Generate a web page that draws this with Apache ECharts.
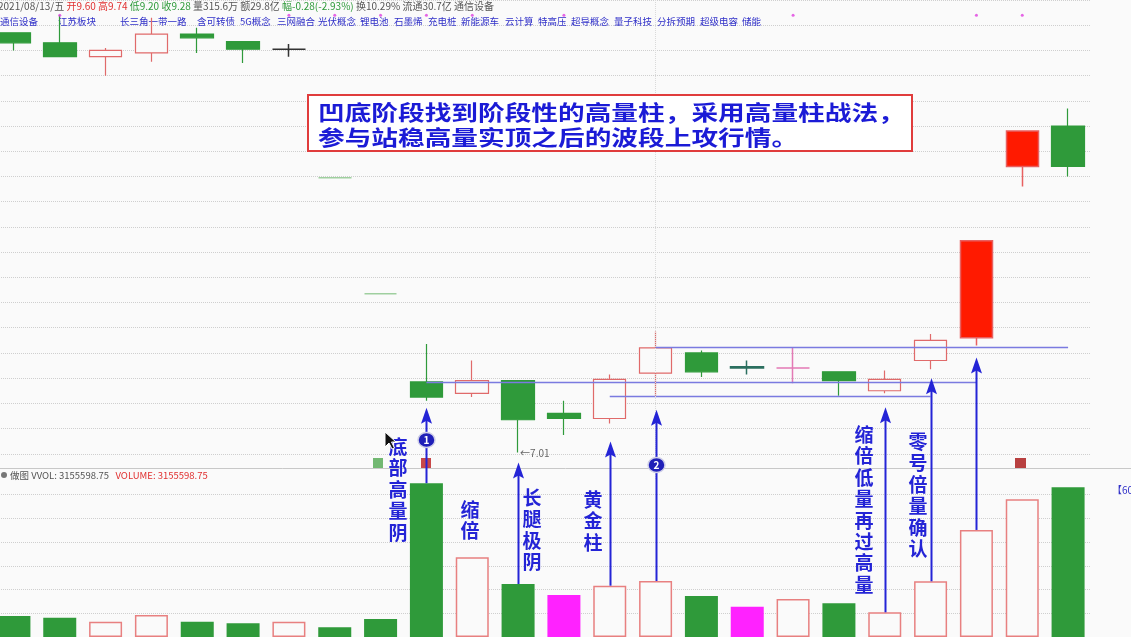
<!DOCTYPE html>
<html>
<head>
<meta charset="utf-8">
<script src="https://cdn.jsdelivr.net/npm/echarts@6/dist/echarts.min.js"></script>
<style>
  html, body { margin: 0; padding: 0; background: #fafafa; overflow: hidden; }
  #wrap { position: relative; width: 1131px; height: 637px; overflow: hidden; }
  #main { position: absolute; left: -9px; top: 0; width: 1140px; height: 637px; }
</style>
</head>
<body>
<div id="wrap"><div id="main"></div></div>
<script>
// 日期 (最后一根 = 2021/08/13)
var days = ['07/13', '07/14', '07/15', '07/16', '07/19', '07/20', '07/21', '07/22', '07/23', '07/26', '07/27', '07/28',
            '07/29', '07/30', '08/02', '08/03', '08/04', '08/05', '08/06', '08/09', '08/10', '08/11', '08/12', '08/13'];
var openP  = [10.34, 10.26, 10.15, 10.18, 10.33, 10.27, 10.21, 9.19, 8.27, 7.57, 7.48, 7.58,
              7.32, 7.28, 7.64, 7.80, 7.69, 7.68, 7.65, 7.50, 7.74, 7.92, 9.28, 9.60];
var closeP = [10.26, 10.15, 10.20, 10.33, 10.30, 10.21, 10.21, 9.19, 8.27, 7.45, 7.58, 7.27,
              7.28, 7.59, 7.84, 7.65, 7.68, 7.68, 7.58, 7.59, 7.90, 8.69, 9.56, 9.28];
var lowP   = [10.20, 10.15, 10.00, 10.11, 10.18, 10.10, 10.15, 9.19, 8.27, 7.42, 7.45, 7.01,
              7.15, 7.24, 7.46, 7.61, 7.63, 7.56, 7.46, 7.48, 7.67, 7.86, 9.12, 9.20];
var highP  = [10.34, 10.48, 10.22, 10.46, 10.38, 10.27, 10.25, 9.19, 8.27, 7.87, 7.74, 7.58,
              7.42, 7.63, 7.97, 7.82, 7.74, 7.84, 7.65, 7.66, 7.95, 8.69, 9.56, 9.74];
var volume = [443000, 407000, 323000, 464000, 323000, 289000, 323000, 205000, 380000, 3243000, 1681000, 1118000,
              886000, 1082000, 1181000, 865000, 639000, 802000, 711000, 521000, 1175000, 2257000, 2905000, 3155598.75];

var limitUpDays = [21, 22];
var magentaVolDays = [12, 16];
var signalDays = [1, 6, 7, 8, 9, 10, 12, 17, 21, 22];
var signalLevel = 10.48;

// 手工画线 [起点, 终点, 价位]
var drawnLines = [[9, 21, 7.565], [13, 20, 7.454], [14, 23, 7.843]];

var tags = ['通信设备', '江苏板块', '长三角一带一路', '含可转债', '5G概念', '三网融合', '光伏概念', '锂电池', '石墨烯',
            '充电桩', '新能源车', '云计算', '特高压', '超导概念', '量子科技', '分拆预期', '超级电容', '储能'];
var tagX = [0, 58, 120, 197, 240, 277, 318, 360, 394, 428, 461, 505, 538, 571, 614, 657, 700, 742];

var bg = '#fafafa';
var upColor = '#e06a6a';
var downColor = '#2f9a3a';
var blue = '#2424d6';

var dojiColor = { 6: '#333333', 7: '#9fcf9f', 8: '#9fcf9f', 16: '#2b6f5f', 17: '#e37ab5' };

function isUp(i) {
  if (closeP[i] !== openP[i]) return closeP[i] > openP[i];
  return i === 0 || closeP[i] >= closeP[i - 1];
}

var candleItems = days.map(function (d, i) {
  var item = { value: [openP[i], closeP[i], lowP[i], highP[i]] };
  if (limitUpDays.indexOf(i) >= 0) {
    item.itemStyle = { color: '#ff1a00', borderColor: '#e86060', borderWidth: 1.5 };
  } else if (dojiColor[i]) {
    var c = dojiColor[i];
    item.itemStyle = { color: c, color0: c, borderColor: c, borderColor0: c, borderColorDoji: c, borderWidth: 1.5 };
  }
  return item;
});

var volItems = volume.map(function (v, i) {
  if (magentaVolDays.indexOf(i) >= 0) return { value: v, itemStyle: { color: '#ff22ff' } };
  if (isUp(i)) return { value: v, itemStyle: { color: bg, borderColor: '#e88080', borderWidth: 1.5 } };
  return { value: v, itemStyle: { color: downColor } };
});

var lineData = drawnLines.map(function (l) {
  return [{ coord: [l[0], l[2]] }, { coord: [l[1], l[2]] }];
});
lineData.push({ xAxis: 14, lineStyle: { color: '#dadada', type: 'dotted', width: 1 } });

var chart = echarts.init(document.getElementById('main'));

var option = {
  backgroundColor: bg,
  animation: false,
  grid: [
    { left: 0, width: 1100, top: 0, height: 479 },
    { left: 0, width: 1100, top: 471, height: 166 }
  ],
  xAxis: [
    { type: 'category', data: days, gridIndex: 0, show: false },
    { type: 'category', data: days, gridIndex: 1, show: false }
  ],
  yAxis: [
    {
      gridIndex: 0, min: 6.8, max: 10.6, interval: 0.2,
      axisLine: { show: false }, axisTick: { show: false }, axisLabel: { show: false },
      splitLine: { show: true, showMinLine: false, lineStyle: { color: '#cfcfcf', type: 'dotted' } }
    },
    {
      gridIndex: 1, min: 0, max: 3500000, interval: 500000,
      axisLine: { show: false }, axisTick: { show: false }, axisLabel: { show: false },
      splitLine: { show: true, showMinLine: false, showMaxLine: false, lineStyle: { color: '#cfcfcf', type: 'dotted' } }
    }
  ],
  series: [
    {
      type: 'candlestick',
      xAxisIndex: 0, yAxisIndex: 0,
      barWidth: '72%',
      itemStyle: { color: bg, color0: downColor, borderColor: upColor, borderColor0: downColor, borderWidth: 1.2 },
      data: candleItems,
      markLine: {
        silent: true,
        symbol: ['none', 'none'],
        label: { show: false },
        lineStyle: { color: '#7a7ae0', type: 'solid', width: 1.3 },
        data: lineData
      }
    },
    {
      type: 'scatter',
      xAxisIndex: 0, yAxisIndex: 0,
      symbolSize: 3,
      itemStyle: { color: '#e040e0' },
      data: signalDays.map(function (i) { return [i, signalLevel]; })
    },
    {
      type: 'bar',
      xAxisIndex: 1, yAxisIndex: 1,
      barWidth: '72%',
      data: volItems
    }
  ]
};

chart.setOption(option);

var font = '"Noto Sans CJK SC", "Noto Sans", sans-serif';
var shift = 9;   // 画布向左偏移量, 静态标注需补回
var st = [];     // 静态标注 (页面坐标)
var els = [];

// 分隔线
st.push({ type: 'line', shape: { x1: 0, y1: 468.5, x2: 1131, y2: 468.5 }, style: { stroke: '#c8c8c8', lineWidth: 1 } });

// 顶部行情信息
st.push({
  type: 'text', x: -2, y: 6,
  style: {
    text: '{g|2021/08/13/五} {r|开9.60} {r|高9.74} {gr|低9.20} {gr|收9.28} {g|量315.6万} {g|额29.8亿} {gr|幅-0.28(-2.93%)} {g|换10.29%} {g|流通30.7亿} {g|通信设备}',
    verticalAlign: 'middle', fontFamily: font, fontSize: 10,
    rich: {
      g: { fill: '#555', fontSize: 10, fontFamily: font },
      r: { fill: '#e03030', fontSize: 10, fontFamily: font },
      gr: { fill: '#2e9a3a', fontSize: 10, fontFamily: font }
    }
  }
});
tags.forEach(function (t, i) {
  st.push({ type: 'text', x: tagX[i], y: 21, style: { text: t, fill: '#3030c8', fontSize: 9.5, fontFamily: font, verticalAlign: 'middle' } });
});

// 量能副图标题
st.push({ type: 'circle', shape: { cx: 4, cy: 475, r: 3 }, style: { fill: '#777' } });
st.push({
  type: 'text', x: 10, y: 475,
  style: {
    text: '{g|做图 VVOL: 3155598.75}   {r|VOLUME: 3155598.75}',
    verticalAlign: 'middle', fontFamily: font, fontSize: 9.5,
    rich: {
      g: { fill: '#555', fontSize: 9.5, fontFamily: font },
      r: { fill: '#e03030', fontSize: 9.5, fontFamily: font }
    }
  }
});
st.push({ type: 'text', x: 1112, y: 490, style: { text: '【60', fill: '#3030c8', fontSize: 10, fontFamily: font, verticalAlign: 'middle' } });

// 标记小图标
st.push({ type: 'rect', shape: { x: 373, y: 458, width: 10, height: 10 }, style: { fill: '#72b872' } });
st.push({ type: 'rect', shape: { x: 421, y: 458, width: 10, height: 10 }, style: { fill: '#c84848' } });
st.push({ type: 'rect', shape: { x: 1015, y: 458, width: 11, height: 10 }, style: { fill: '#b84040' } });

// 说明框
st.push({ type: 'rect', shape: { x: 308, y: 95, width: 604, height: 56 }, style: { fill: '#ffffff', stroke: '#e03c3c', lineWidth: 2 }, z: 50 });
st.push({
  type: 'text', x: 318, y: 100, scaleX: 1.27, z: 51,
  style: {
    text: '凹底阶段找到阶段性的高量柱，采用高量柱战法，\n参与站稳高量实顶之后的波段上攻行情。',
    fill: '#1b1bd6', fontSize: 21, fontWeight: 'bold', fontFamily: font, lineHeight: 25
  }
});

// 竖排标注
var notes = [
  { text: '底部高量阴', x: 398, y: 436 },
  { text: '缩倍', x: 470, y: 499 },
  { text: '长腿极阴', x: 532, y: 487 },
  { text: '黄金柱', x: 593, y: 489 },
  { text: '缩倍低量再过高量', x: 864, y: 424 },
  { text: '零号倍量确认', x: 918, y: 431 }
];
notes.forEach(function (n) {
  st.push({
    type: 'text', x: n.x, y: n.y, z: 60,
    style: {
      text: n.text.split('').join('\n'), fill: blue, fontSize: 19, fontWeight: 'bold',
      fontFamily: font, align: 'center', verticalAlign: 'top', lineHeight: 21.4
    }
  });
});

// 鼠标指针
st.push({
  type: 'polygon', z: 90, x: 385, y: 432,
  shape: { points: [[0, 0], [0, 15], [4, 11], [7, 17], [9.5, 16], [6.5, 10], [11, 10]] },
  style: { fill: '#111', stroke: '#fff', lineWidth: 1 }
});

els.push({ type: 'group', x: shift, children: st });

// 箭头: 从量柱顶部指向K线低点
var arrows = [{ i: 9, gap: 7 }, { i: 11, gap: 10 }, { i: 13, gap: 18 }, { i: 14, gap: 14 },
              { i: 19, gap: 14 }, { i: 20, gap: 9 }, { i: 21, gap: 12 }];
var xs = {};
arrows.forEach(function (a) {
  var top = chart.convertToPixel({ gridIndex: 0 }, [a.i, lowP[a.i]]);
  var bot = chart.convertToPixel({ gridIndex: 1 }, [a.i, volume[a.i]]);
  var x = Math.round(top[0]) + 0.5;
  xs[a.i] = x;
  var tipY = top[1] + a.gap;
  els.push({ type: 'line', z: 70, shape: { x1: x, y1: tipY + 10, x2: x, y2: bot[1] }, style: { stroke: blue, lineWidth: 2 } });
  els.push({ type: 'polygon', z: 70, shape: { points: [[x, tipY], [x - 5.5, tipY + 16], [x, tipY + 13], [x + 5.5, tipY + 16]] }, style: { fill: blue } });
});

// 圆圈序号
[{ i: 9, y: 440, t: '1' }, { i: 14, y: 465, t: '2' }].forEach(function (c) {
  var x = xs[c.i];
  els.push({ type: 'ellipse', z: 80, shape: { cx: x, cy: c.y, rx: 8.5, ry: 7.5 }, style: { fill: '#1f1fb8', stroke: '#d0d0e8', lineWidth: 1.5 } });
  els.push({ type: 'text', z: 81, x: x, y: c.y, style: { text: c.t, fill: '#fff', fontSize: 10, fontWeight: 'bold', fontFamily: font, align: 'center', verticalAlign: 'middle' } });
});

// 最低价标注
var lowPt = chart.convertToPixel({ gridIndex: 0 }, [11, 7.01]);
els.push({ type: 'text', x: lowPt[0] + 2, y: lowPt[1] + 1, style: { text: '←7.01', fill: '#666', fontSize: 10, fontFamily: font, verticalAlign: 'middle' } });

chart.setOption({ graphic: { elements: els } });
</script>
</body>
</html>
